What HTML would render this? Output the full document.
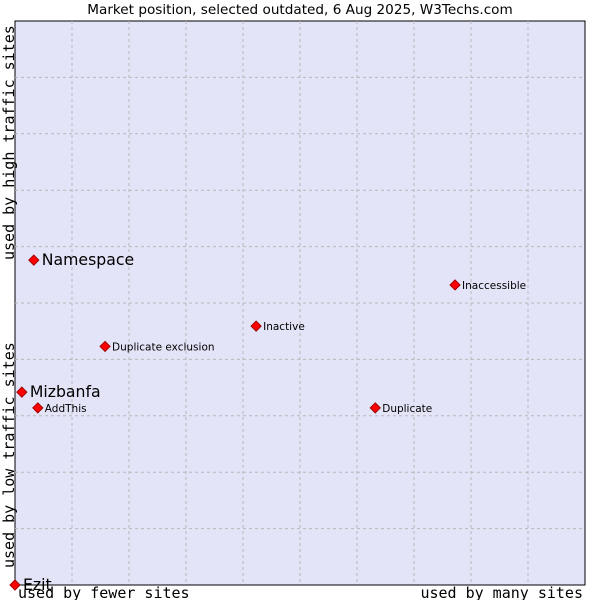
<!DOCTYPE html>
<html><head><meta charset="utf-8"><style>
body{margin:0;background:#fff;width:600px;height:600px;overflow:hidden}
svg text{font-family:"DejaVu Sans","Liberation Sans",sans-serif}
</style></head><body>
<svg id="chart" width="600" height="600" xmlns="http://www.w3.org/2000/svg">
<text x="300" y="14" text-anchor="middle" font-size="13.6" fill="#000">Market position, selected outdated, 6 Aug 2025, W3Techs.com</text>
<rect x="15" y="21" width="570" height="564" fill="#e3e4f8" stroke="#000" stroke-width="1"/>
<g id="grid"></g>
<g id="points"></g>
<text x="18" y="598" font-size="15" style="font-family:'DejaVu Sans Mono','Liberation Mono',monospace">used by fewer sites</text>
<text x="583" y="598" text-anchor="end" font-size="15" style="font-family:'DejaVu Sans Mono','Liberation Mono',monospace">used by many sites</text>
<text transform="translate(14,568) rotate(-90)" font-size="15" style="font-family:'DejaVu Sans Mono','Liberation Mono',monospace">used by low traffic sites</text>
<text transform="translate(14,260) rotate(-90)" font-size="15" style="font-family:'DejaVu Sans Mono','Liberation Mono',monospace">used by high traffic sites</text>
</svg>
<script>
const names=["Namespace","Inaccessible","Inactive","Duplicate exclusion","Mizbanfa","AddThis","Duplicate","Ezit"];
const xValues=[3.3,77.2,42.3,15.8,1.2,4.0,63.2,0];
const yValues=[57.6,53.2,45.9,42.3,34.2,31.4,31.4,0];
const bigLabel=[true,false,false,false,true,false,false,true];
const L=15,R=585,T=21,B=585;
const sx=v=>L+(R-L)*v/100, sy=v=>B-(B-T)*v/100;
const NS="http://www.w3.org/2000/svg";
const g=document.getElementById('grid'),p=document.getElementById('points');
for(let i=1;i<10;i++){
 const v=document.createElementNS(NS,'line');
 
 
 v.setAttribute('x1',sx(i*10));v.setAttribute('x2',sx(i*10));v.setAttribute('y1',T);v.setAttribute('y2',B);
 v.setAttribute('stroke','#b8b8b8');v.setAttribute('stroke-dasharray','3,3');g.appendChild(v);
 const h=document.createElementNS(NS,'line');
 
 
 h.setAttribute('y1',sy(i*10));h.setAttribute('y2',sy(i*10));h.setAttribute('x1',L);h.setAttribute('x2',R);
 h.setAttribute('stroke','#b8b8b8');h.setAttribute('stroke-dasharray','3,3');g.appendChild(h);
}
names.forEach((n,i)=>{
 const x=sx(xValues[i]),y=sy(yValues[i]);
 const m=document.createElementNS(NS,'polygon');
 
 
 m.setAttribute('points',`${x},${y-5} ${x+5},${y} ${x},${y+5} ${x-5},${y}`);
 m.setAttribute('fill','#ff0000');m.setAttribute('stroke','#a00000');m.setAttribute('stroke-width','1');
 p.appendChild(m);
 const t=document.createElementNS(NS,'text');
 
 
 t.setAttribute('x',x+(bigLabel[i]?8:7));t.setAttribute('y',y+(bigLabel[i]?5:4));
 t.setAttribute('font-size',bigLabel[i]?'15.7':'10.5');
 t.textContent=n;p.appendChild(t);
});
</script>
</body></html>
